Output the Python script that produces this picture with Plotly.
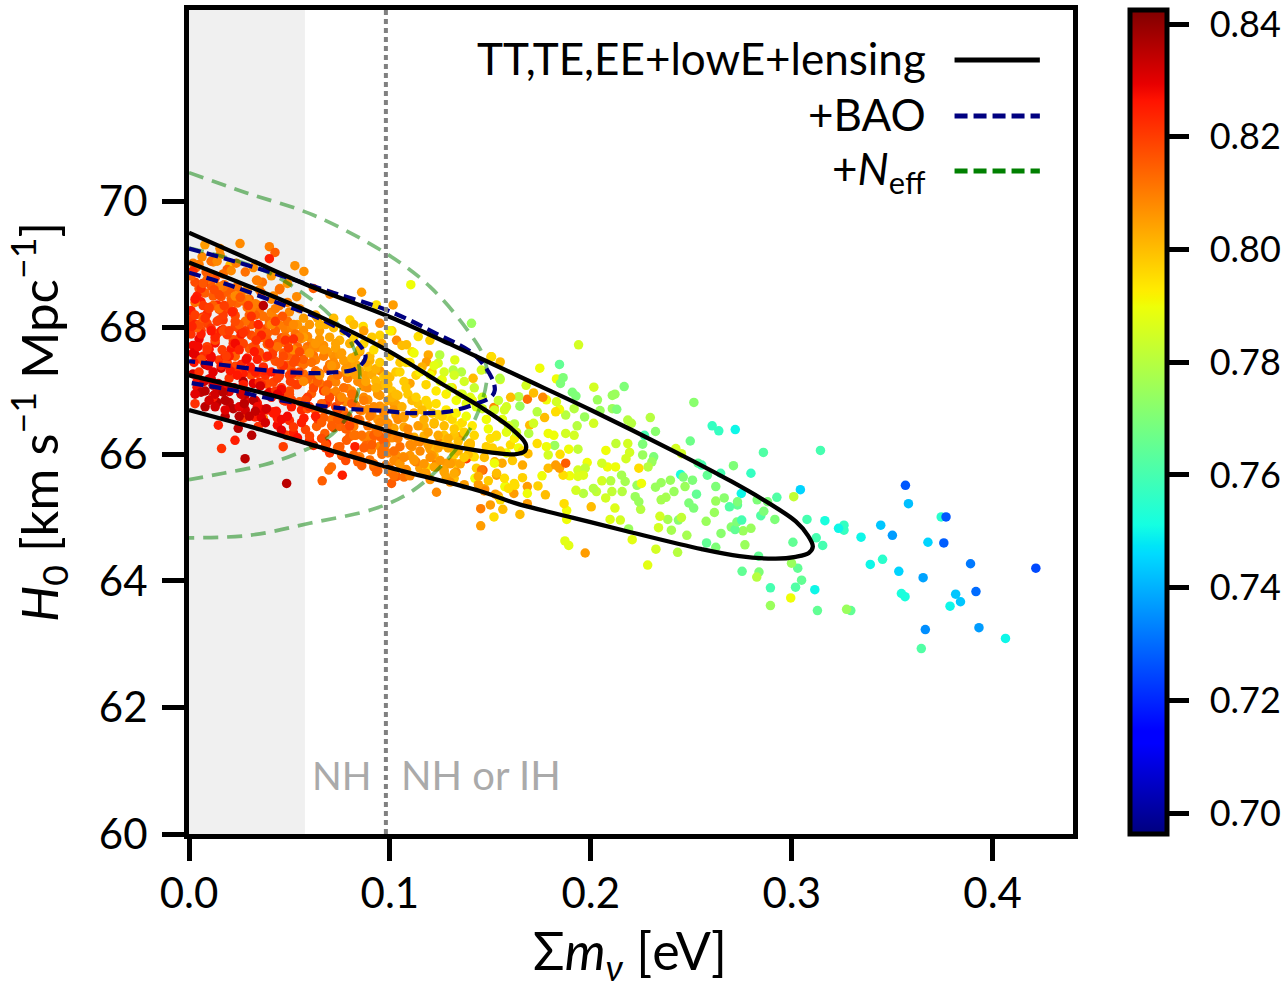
import plotly.graph_objects as go

FONT = "Lato"

# --- sampled points: sum of neutrino masses [eV], H0, sigma8 ---
extra_mnu = [
 .0020,.0065,.0110,.0155,.0190,.0235,.0280,.0320,.0365,.0410,
 .0450,.0490,.0035,.0085,.0130,.0175,.0215,.0260,.0300,.0345,
 .0820,.0870,.0910,.0960,.1010,.1060,.1110,.1160,.1210,.1260,
 .1310,.1360,.1410,.1460,.0850,.0900,.0950,.1000,.1050,.1100,
 .1020,.1070,.1120,.1170,.1220,.1270,.1320,.1370,.1420,.1470,
 .1520,.1570,.1050,.1100,.1150,.1200,.1250,.1300,.1350,.1400,
 .1440,.1490,.1540,.1590,.1480,.1530,.1580,.1620,.1500,.1550,
]
extra_h0 = [
 69.02,69.12,69.05,69.15,68.92,69.02,68.88,68.95,68.72,68.82,
 68.60,68.70,68.95,68.88,68.78,68.68,68.62,68.55,68.45,68.35,
 68.05,67.95,67.85,67.75,67.95,67.72,67.62,67.38,67.30,67.18,
 67.05,66.95,66.85,66.72,67.62,67.48,67.32,67.22,67.45,67.12,
 65.72,65.64,65.92,65.70,65.98,65.72,65.62,65.52,65.96,65.42,
 65.86,65.62,66.12,65.98,66.20,66.08,66.22,66.12,66.28,66.18,
 65.52,65.58,65.34,65.46,66.12,66.28,66.02,66.48,65.20,65.28,
]
extra_s8 = [
 .810,.808,.812,.808,.815,.810,.812,.808,.812,.806,
 .812,.806,.815,.815,.818,.812,.815,.812,.815,.812,
 .800,.805,.798,.803,.797,.800,.795,.802,.797,.790,
 .795,.785,.790,.785,.805,.802,.806,.800,.798,.804,
 .805,.812,.803,.808,.800,.805,.800,.805,.795,.808,
 .790,.795,.812,.806,.810,.805,.808,.802,.805,.800,
 .805,.798,.803,.795,.797,.785,.790,.780,.805,.795,
]

red_mnu = [
 .0030,.0080,.0130,.0185,.0240,.0295,.0345,.0400,.0450,.0505,
 .0060,.0110,.0165,.0215,.0270,.0325,.0375,.0430,.0480,.0530,
 .0015,.0100,.0150,.0205,.0255,.0310,.0360,.0415,.0465,.0520,
 .0045,.0095,.0145,.0200,.0250,.0305,.0355,.0410,.0460,.0515,
 .0075,.0125,.0175,.0230,.0285,.0335,.0390,.0440,.0495,.0550,
 .0025,.0070,.0120,.0170,.0225,.0275,.0330,.0385,.0435,.0490,
]
red_h0 = [
 68.45,68.15,67.85,67.55,67.25,68.35,68.05,67.75,67.45,67.15,
 68.62,67.95,67.65,68.25,67.92,67.62,67.32,68.10,67.80,67.50,
 68.02,68.32,68.52,67.32,68.48,68.18,67.88,67.58,68.18,67.82,
 67.70,67.40,67.12,67.95,67.65,67.38,67.08,67.30,67.02,67.28,
 67.15,68.60,68.35,68.10,67.50,67.80,67.55,66.95,67.68,67.62,
 67.45,68.70,67.30,66.98,67.05,66.80,66.68,66.72,66.68,66.60,
]
red_s8 = [
 .826,.822,.824,.820,.826,.820,.824,.822,.818,.820,
 .822,.826,.820,.824,.822,.826,.824,.820,.822,.818,
 .824,.820,.818,.826,.816,.822,.824,.820,.816,.822,
 .828,.830,.832,.820,.824,.826,.832,.826,.828,.822,
 .832,.818,.820,.818,.828,.822,.824,.830,.820,.818,
 .826,.816,.830,.835,.832,.835,.834,.832,.826,.828,
]

dense_mnu = [
 .003,.006,.001,.005,.007,.002,.004,.008,.001,.006,
 .005,.002,.007,.003,.008,.004,.001,.006,.003,.007,
 .011,.014,.009,.013,.015,.010,.012,.016,.009,.014,
 .013,.010,.015,.011,.016,.012,.009,.014,.011,.015,
 .019,.022,.017,.021,.023,.018,.020,.024,.017,.022,
 .021,.018,.023,.019,.024,.020,.017,.022,.019,.023,
 .027,.030,.025,.029,.031,.026,.028,.032,.025,.030,
 .029,.026,.031,.027,.032,.028,.025,.030,.027,.031,
 .035,.038,.033,.037,.039,.034,.036,.040,.033,.038,
 .037,.034,.039,.035,.040,.036,.033,.038,.035,.039,
 .043,.046,.041,.045,.047,.042,.044,.048,.041,.046,
 .045,.042,.047,.043,.048,.044,.041,.046,.043,.047,
 .051,.054,.049,.053,.055,.050,.052,.056,.049,.054,
 .053,.050,.055,.051,.056,.052,.049,.054,.051,.055,
 .059,.062,.057,.061,.063,.058,.060,.064,.057,.062,
 .061,.058,.063,.059,.064,.060,.057,.062,.059,.063,
 .067,.070,.065,.069,.071,.066,.068,.072,.065,.070,
 .069,.066,.071,.067,.072,.068,.065,.070,.067,.071,
 .075,.078,.073,.077,.079,.074,.076,.080,.073,.078,
 .077,.074,.079,.075,.080,.076,.073,.078,.075,.079,
 .083,.086,.081,.085,.087,.082,.084,.088,.081,.086,
 .085,.082,.087,.083,.088,.084,.081,.086,.083,.087,
 .091,.094,.089,.093,.095,.090,.092,.096,.089,.094,
 .093,.090,.095,.091,.096,.092,.089,.094,.091,.095,
 .099,.102,.097,.101,.103,.098,.100,.104,.097,.102,
 .101,.098,.103,.099,.104,.100,.097,.102,.099,.103,
 .109,.112,.107,.111,.113,.108,.110,.114,.107,.112,
 .119,.122,.117,.121,.123,.118,.120,.124,.117,.122,
 .129,.132,.127,.131,.133,.128,.130,.134,.127,.132,
]
dense_h0 = [
 68.72,68.41,68.13,67.82,67.55,67.27,67.06,68.55,68.27,67.96,
 68.62,67.72,68.35,68.05,67.42,67.15,68.82,66.98,67.58,68.17,
 68.66,68.36,68.07,67.76,67.49,67.19,66.92,68.49,68.22,67.91,
 68.58,67.66,68.29,67.99,67.36,67.09,68.76,66.82,67.52,68.12,
 68.56,68.26,67.97,67.66,67.39,67.09,66.82,68.39,68.12,67.81,
 68.46,67.56,68.19,67.89,67.26,66.99,68.64,66.72,67.42,68.02,
 68.42,68.12,67.83,67.52,67.25,66.95,66.70,68.25,67.98,67.67,
 68.32,67.42,68.05,67.75,67.12,66.85,68.52,66.60,67.28,67.88,
 68.28,67.98,67.69,67.38,67.11,66.81,66.58,68.11,67.84,67.53,
 68.18,67.28,67.91,67.61,66.98,66.71,68.38,66.50,67.14,67.74,
 68.14,67.84,67.55,67.24,66.97,66.67,66.46,67.97,67.70,67.39,
 68.04,67.14,67.77,67.47,66.84,66.57,68.24,66.38,67.00,67.60,
 68.00,67.70,67.41,67.10,66.83,66.53,66.34,67.83,67.56,67.25,
 67.90,67.00,67.63,67.33,66.70,66.43,68.10,66.26,66.86,67.46,
 67.86,67.56,67.27,66.96,66.69,66.39,66.22,67.69,67.42,67.11,
 67.76,66.86,67.49,67.19,66.56,66.29,67.96,66.14,66.72,67.32,
 67.72,67.42,67.13,66.82,66.55,66.25,66.10,67.55,67.28,66.97,
 67.62,66.72,67.35,67.05,66.42,66.15,67.82,66.02,66.58,67.18,
 67.58,67.28,66.99,66.68,66.41,66.11,65.98,67.41,67.14,66.83,
 67.48,66.58,67.21,66.91,66.28,66.01,67.68,65.90,66.44,67.04,
 67.42,67.12,66.85,66.54,66.27,65.99,65.88,67.25,67.00,66.69,
 67.32,66.44,67.07,66.77,66.14,65.93,67.52,65.82,66.30,66.90,
 67.26,66.96,66.71,66.40,66.13,65.91,65.80,67.09,66.86,66.55,
 67.16,66.30,66.93,66.63,66.00,65.85,67.38,65.74,66.16,66.76,
 67.10,66.80,66.57,66.26,65.99,65.83,65.72,66.93,66.72,66.41,
 67.00,66.16,66.79,66.49,65.88,65.77,67.22,65.66,66.02,66.62,
 66.95,66.65,66.43,66.12,65.88,65.76,65.66,66.80,66.58,66.27,
 66.78,66.48,66.29,65.98,65.80,65.70,65.60,66.63,66.44,66.13,
 66.60,66.30,66.15,65.88,65.72,65.64,65.56,66.45,66.30,66.00,
]
dense_s8 = [
 .818,.825,.821,.829,.823,.832,.828,.815,.825,.819,
 .817,.828,.821,.824,.834,.827,.814,.834,.830,.823,
 .816,.823,.819,.827,.821,.830,.835,.817,.823,.818,
 .815,.826,.819,.822,.832,.832,.812,.835,.828,.820,
 .815,.821,.819,.826,.819,.828,.834,.814,.821,.817,
 .814,.825,.818,.821,.830,.830,.812,.835,.826,.819,
 .814,.819,.818,.825,.818,.827,.832,.812,.819,.816,
 .812,.823,.817,.819,.830,.828,.810,.834,.825,.818,
 .812,.818,.816,.823,.817,.826,.830,.812,.817,.814,
 .812,.821,.815,.818,.828,.827,.810,.832,.823,.816,
 .810,.816,.815,.821,.816,.825,.828,.810,.815,.814,
 .810,.819,.814,.817,.826,.825,.809,.830,.821,.815,
 .809,.814,.814,.819,.815,.823,.825,.809,.814,.812,
 .808,.817,.812,.815,.823,.821,.808,.827,.819,.814,
 .808,.812,.812,.815,.814,.819,.823,.808,.812,.810,
 .807,.815,.810,.814,.821,.819,.807,.823,.817,.812,
 .807,.810,.810,.814,.812,.818,.821,.807,.810,.809,
 .806,.814,.809,.812,.818,.817,.806,.821,.815,.810,
 .806,.809,.809,.812,.810,.815,.818,.806,.809,.808,
 .805,.812,.808,.810,.815,.815,.804,.818,.814,.809,
 .804,.808,.808,.810,.809,.814,.815,.804,.808,.807,
 .803,.810,.807,.809,.814,.814,.802,.815,.812,.808,
 .803,.807,.807,.809,.808,.812,.814,.802,.807,.806,
 .801,.809,.806,.808,.812,.812,.800,.814,.810,.807,
 .800,.806,.806,.808,.807,.810,.812,.800,.806,.804,
 .799,.808,.804,.807,.810,.810,.799,.812,.809,.806,
 .798,.804,.804,.807,.809,.808,.809,.799,.804,.802,
 .796,.802,.802,.806,.808,.806,.807,.796,.802,.800,
 .793,.799,.799,.804,.806,.804,.806,.793,.799,.798,
]

cloud_mnu = [
 .002,.004,.003,.006,.002,.005,.008,.003,.007,.010,
 .004,.009,.001,.006,.011,.003,.008,.012,.005,.010,
 .012,.014,.013,.016,.015,.018,.014,.017,.019,.013,
 .016,.011,.020,.018,.015,.021,.017,.022,.013,.019,
 .024,.022,.026,.023,.027,.025,.029,.021,.028,.024,
 .030,.026,.032,.028,.023,.031,.027,.033,.025,.029,
 .035,.033,.036,.034,.038,.032,.037,.035,.039,.034,
 .040,.036,.042,.038,.041,.037,.043,.039,.036,.041,
 .045,.043,.047,.044,.048,.046,.042,.049,.044,.047,
 .050,.048,.052,.046,.051,.049,.053,.045,.050,.054,
 .055,.053,.057,.054,.058,.056,.052,.059,.055,.057,
 .060,.058,.062,.059,.063,.061,.057,.064,.060,.062,
 .065,.063,.067,.064,.068,.066,.062,.069,.065,.067,
 .070,.068,.072,.069,.073,.071,.067,.074,.070,.072,
 .075,.073,.077,.074,.078,.076,.072,.079,.075,.077,
 .080,.078,.082,.079,.083,.081,.077,.084,.080,.082,
 .085,.083,.087,.084,.088,.086,.082,.089,.085,.087,
 .090,.088,.092,.089,.093,.091,.087,.094,.090,.092,
 .095,.093,.097,.094,.098,.096,.092,.099,.095,.097,
 .100,.098,.102,.099,.103,.101,.097,.104,.100,.102,
 .105,.103,.107,.104,.108,.106,.102,.109,.105,.107,
 .110,.108,.112,.109,.113,.111,.107,.114,.110,.112,
 .115,.113,.117,.114,.118,.116,.112,.119,.115,.117,
 .120,.118,.122,.119,.123,.121,.117,.124,.120,.122,
 .125,.123,.127,.124,.128,.126,.122,.129,.125,.127,
 .130,.128,.132,.129,.133,.131,.127,.134,.130,.132,
 .135,.133,.137,.134,.138,.136,.132,.139,.135,.137,
 .140,.138,.142,.139,.143,.141,.137,.144,.140,.142,
 .146,.148,.150,.147,.152,.149,.154,.151,.156,.153,
 .155,.158,.157,.160,.159,.162,.161,.164,.163,.166,
 .005,.012,.020,.028,.036,.044,.052,.060,.068,.076,
 .009,.017,.025,.033,.041,.049,.057,.065,.073,.081,
 .003,.010,.018,.026,.034,.042,.050,.058,.066,.074,
 .007,.015,.023,.031,.039,.047,.055,.063,.071,.079,
]
cloud_h0 = [
 68.90,68.50,68.20,67.90,67.60,67.30,67.00,66.80,68.70,68.30,
 68.00,67.70,67.90,67.50,67.20,66.95,66.75,66.90,69.00,68.80,
 68.50,68.10,67.80,67.40,67.05,66.60,69.05,68.85,68.30,66.75,
 67.95,67.55,67.20,66.85,68.65,68.40,68.20,67.75,66.95,67.45,
 68.65,68.25,67.90,67.55,67.15,66.75,68.45,68.90,66.95,67.30,
 68.20,68.45,67.70,67.95,67.75,67.35,67.10,66.85,66.60,68.60,
 68.60,68.20,67.85,67.50,67.15,66.85,68.35,67.95,66.70,68.75,
 68.05,68.55,67.65,67.25,66.90,66.70,68.30,67.80,67.10,68.45,
 68.35,67.95,67.55,67.20,66.85,66.55,68.50,68.10,67.75,67.40,
 68.25,67.85,67.45,67.05,66.75,68.40,67.60,66.95,67.25,68.05,
 68.30,67.90,67.50,67.10,66.80,66.50,68.05,67.70,67.30,68.15,
 68.05,67.65,67.25,66.90,66.60,67.45,67.85,68.15,66.75,67.05,
 67.95,68.20,67.55,67.15,66.80,66.50,67.70,67.35,68.05,67.00,
 67.85,68.05,67.45,67.10,66.75,66.45,67.65,67.25,66.90,68.15,
 67.80,67.40,67.05,66.70,66.40,67.60,68.00,67.20,66.85,66.55,
 67.75,67.35,66.95,66.60,67.55,66.80,67.95,67.15,66.45,66.30,
 67.65,67.25,66.85,66.55,67.45,66.30,67.85,67.05,66.70,66.10,
 67.55,67.15,66.75,66.45,67.35,66.15,67.75,66.95,66.60,66.30,
 67.45,67.05,66.65,66.35,67.25,66.05,67.65,66.85,66.50,66.20,
 67.55,67.10,66.70,66.35,67.30,66.90,66.10,66.55,67.95,65.90,
 67.30,66.95,66.60,66.25,67.45,66.75,66.05,66.40,65.85,67.15,
 67.45,67.05,66.65,66.30,67.25,66.85,65.95,66.45,66.15,67.60,
 67.30,66.90,66.55,66.20,67.10,66.70,65.90,66.35,66.05,65.70,
 67.25,66.85,66.50,66.15,67.00,66.65,65.85,66.30,65.95,67.40,
 67.15,66.80,66.45,66.10,66.95,66.60,65.80,66.25,65.90,67.30,
 67.05,66.70,66.40,66.10,66.85,66.55,65.75,66.20,65.85,67.25,
 66.95,66.65,66.35,66.05,66.80,66.50,65.70,66.15,65.85,67.15,
 66.90,66.60,66.30,66.00,66.75,66.45,65.95,65.65,66.15,67.05,
 66.90,66.55,66.25,65.95,66.70,66.40,66.85,66.10,66.55,66.30,
 66.05,66.35,66.70,66.15,66.45,66.25,65.90,66.10,66.35,66.05,
 68.05,68.35,67.55,68.10,67.85,67.70,67.65,67.60,67.00,66.90,
 67.65,67.95,68.05,67.30,68.05,67.75,67.15,67.25,67.75,66.95,
 68.40,66.85,66.70,66.95,66.75,66.65,66.95,66.85,66.80,66.55,
 68.15,68.30,68.50,68.30,66.95,66.85,67.85,67.75,67.40,67.30,
]
cloud_s8 = [
 .822,.825,.820,.825,.830,.822,.835,.822,.825,.820,
 .815,.820,.822,.818,.830,.830,.835,.825,.810,.815,
 .815,.820,.818,.825,.832,.835,.808,.812,.818,.832,
 .825,.828,.822,.835,.810,.815,.820,.822,.832,.818,
 .812,.820,.825,.815,.835,.830,.810,.808,.835,.822,
 .815,.812,.818,.820,.828,.822,.825,.830,.835,.808,
 .808,.815,.820,.825,.818,.835,.835,.815,.825,.810,
 .812,.815,.818,.822,.825,.830,.810,.816,.822,.808,
 .810,.815,.818,.820,.825,.828,.808,.812,.816,.822,
 .808,.812,.818,.822,.825,.810,.815,.830,.820,.806,
 .808,.812,.815,.820,.825,.825,.808,.812,.818,.805,
 .806,.810,.815,.820,.825,.812,.805,.804,.822,.818,
 .805,.803,.810,.815,.822,.815,.808,.812,.802,.820,
 .804,.802,.808,.815,.820,.815,.806,.812,.818,.800,
 .802,.808,.812,.818,.815,.805,.800,.810,.815,.820,
 .802,.806,.810,.815,.803,.815,.798,.808,.818,.812,
 .800,.805,.810,.815,.803,.812,.797,.808,.812,.815,
 .800,.804,.808,.812,.802,.815,.796,.806,.810,.815,
 .798,.802,.808,.812,.800,.812,.795,.804,.808,.815,
 .797,.800,.806,.812,.798,.802,.812,.808,.792,.808,
 .796,.800,.805,.810,.795,.802,.812,.808,.806,.798,
 .794,.798,.803,.808,.796,.800,.808,.805,.808,.790,
 .792,.797,.802,.808,.796,.800,.806,.804,.808,.805,
 .790,.796,.800,.805,.793,.798,.806,.803,.807,.788,
 .788,.795,.800,.804,.792,.797,.804,.802,.806,.786,
 .786,.793,.798,.803,.790,.796,.804,.800,.805,.785,
 .787,.792,.797,.802,.788,.795,.803,.800,.804,.785,
 .788,.790,.796,.800,.787,.793,.798,.803,.800,.783,
 .785,.790,.795,.800,.785,.790,.783,.797,.788,.795,
 .797,.788,.785,.795,.785,.792,.798,.790,.785,.795,
 .818,.815,.825,.812,.815,.812,.808,.806,.812,.808,
 .822,.818,.815,.825,.808,.810,.808,.806,.804,.812,
 .812,.832,.830,.832,.828,.826,.818,.818,.815,.815,
 .815,.812,.808,.810,.830,.822,.810,.806,.806,.804,
]

edge_mnu = [
 .0486,.0279,.0162,.0763,.0663,.0709,.0696,.0826,.1008,.0933,
 .1232,.1472,.1104,.1406,.0859,.0254,.0400,.0428,.0527,.0572,
 .0400,.0079,.0154,.0204,.0121,.0336,.0453,.0536,.0619,.0701,
 .0801,.0867,.0933,.1016,.0950,.0950,.1033,.1083,.1141,.1199,
 .1191,.1182,.1248,.1240,.1323,.1315,.1356,.1414,.1506,.1547,
 .1455,.0328,.0345,.0312,.0245,.0229,.0146,.0270,.0370,.0486,
 .0469,.0519,.0685,.0635,.0572,.0676,.0751,.0784,.0850,.0908,
 .0933,.0950,.0908,.1066,.1083,.1033,.1149,.1182,.1232,.1282,
 .1323,.1381,.1431,.1423,.1456,.1531,.1572,.1622,
]
edge_h0 = [
 65.54,65.93,66.09,65.67,65.58,65.80,65.75,66.12,65.54,65.72,
 65.40,65.45,68.68,68.07,68.56,69.33,69.28,69.19,68.98,68.89,
 69.09,69.31,69.25,68.99,69.04,68.75,68.62,68.49,68.62,68.53,
 68.12,68.02,68.36,68.36,68.07,67.88,67.80,67.73,67.86,67.80,
 67.57,67.46,67.57,67.44,67.49,67.33,67.30,67.20,67.54,67.20,
 67.33,66.59,66.44,66.30,66.41,66.22,66.46,66.57,66.57,66.30,
 66.12,66.33,66.17,66.44,66.57,66.33,66.12,66.22,65.96,66.07,
 66.33,66.28,66.22,65.96,65.75,65.65,65.78,65.80,65.88,65.86,
 65.86,65.93,65.78,65.62,65.75,65.70,65.49,65.51,
]
edge_s8 = [
 .835,.835,.822,.825,.815,.813,.813,.825,.815,.812,
 .808,.805,.790,.775,.805,.808,.810,.815,.807,.807,
 .825,.805,.808,.800,.808,.810,.810,.808,.815,.808,
 .797,.795,.795,.805,.808,.797,.808,.800,.795,.797,
 .803,.805,.780,.785,.787,.780,.780,.800,.795,.780,
 .785,.825,.822,.835,.835,.825,.825,.820,.810,.820,
 .820,.810,.825,.815,.825,.815,.815,.815,.810,.810,
 .815,.815,.812,.805,.800,.815,.805,.795,.810,.805,
 .797,.820,.797,.790,.810,.800,.790,.795,
]

tail_mnu = [
 .4215,.3566,.3581,.3744,.3768,.3757,.3678,.3501,.3443,.3345,
 .3260,.3260,.3233,.3165,.3076,.3043,.3010,.2926,.3143,.2859,
 .2797,.2719,.2637,.2604,.2513,.2495,.2710,.2646,.2447,.3890,
 .3452,.3391,.3533,.3654,.3917,.3816,.3840,.3788,.3546,.3564,
 .3932,.3665,.4064,.3645,.3294,.3273,.3128,.2894,.2995,.3115,
 .3019,.2894,.3049,.3030,.2999,.2837,.2826,.2753,.2835,.3006,
 .3122,.3154,.2767,.2622,.2576,.2648,.2758,.2797,.2699,.2718,
 .2727,.2751,.2846,.2916,.2861,.2880,.2828,.2749,.2730,.2690,
 .2730,.2664,.2622,.2615,.2574,.2526,.2622,.2580,.2534,.2552,
 .2488,.2512,.2478,.2436,.2451,.2401,.2383,.2344,.2337,.2432,
 .2324,.2283,.2206,.2188,.2147,.2096,.1972,.1890,.1871,.1880,
 .1880,.1867,.2002,.2120,.2248,.2239,.2350,.2374,.2414,.2469,
 .2506,.2460,.2396,.2350,.2322,.2230,.2252,.2221,.2156,.2074,
 .2105,.2055,.2099,.1963,.1926,.2028,.2013,.2171,.2153,.2083,
 .2123,.2055,.1982,.1936,.1972,.1963,.1936,.1895,.1862,.1757,
 .1788,.1825,.1844,.1875,.1660,.1660,.1531,.1463,.1522,.1558,
 .1577,.1619,.1684,.1737,.1774,.1684,.1617,.1525,.1470,.1684,
 .1562,.1518,.1647,.1452,.1452,.1847,.1890,.1936,.2075,.2125,
 .2184,.2193,.2175,.2258,.2313,.2304,.2285,.2239,.2258,.2423,
 .2451,.2322,.2267,.2296,.2184,.2202,.2014,.1969,.1932,.1917,
 .1875,.1816,.1788,.1820,.1779,.1788,.1733,.1687,.1696,.1715,
 .1691,.1875,.1844,.1825,.1770,.1733,.1779,.1829,.1684,.1715,
 .1761,.1641,.1601,.1647,.1580,.1678,.1518,.2033,.1908,.1926,
 .1917,.2046,.2107,.2120,.2107,.2129,.2166,.2015,.1746,.1829,
 .1862,.1844,.1939,.1849,.1549,.1503,.1549,
]
tail_h0 = [
 64.20,65.51,65.22,65.01,65.01,64.60,64.61,64.72,64.88,64.69,
 64.80,64.88,64.83,64.95,64.97,65.44,65.33,65.32,66.06,66.03,
 65.70,66.39,66.37,66.45,66.82,66.21,65.82,65.70,65.68,64.27,
 64.34,64.26,64.15,64.05,63.83,63.79,63.67,63.60,63.80,63.75,
 63.26,63.23,63.09,62.93,63.53,63.55,63.53,63.61,63.73,63.86,
 63.90,63.89,64.01,64.20,64.28,64.14,64.06,64.15,64.39,64.61,
 64.68,64.56,64.57,64.53,64.60,64.75,64.79,64.83,64.85,64.81,
 64.93,64.96,65.03,64.97,65.10,65.25,65.28,65.38,65.20,65.17,
 65.25,65.31,65.26,65.08,64.94,65.37,65.49,65.67,65.86,65.83,
 65.23,65.15,64.72,64.96,65.00,64.80,64.97,65.02,64.84,64.45,
 64.50,64.25,64.65,64.82,64.96,64.97,64.44,64.56,64.63,64.97,
 65.11,65.22,65.17,65.15,65.13,65.25,65.28,65.32,65.41,65.49,
 65.59,65.64,65.59,65.55,65.48,65.51,65.54,65.33,65.41,65.31,
 65.41,65.58,65.58,65.38,65.43,65.41,65.46,65.57,65.67,65.80,
 65.80,65.86,65.87,65.75,65.78,65.67,65.65,65.66,65.67,65.66,
 65.78,65.83,65.78,65.86,65.83,65.63,65.67,65.75,65.88,65.86,
 65.49,65.54,65.49,65.50,65.36,65.38,65.38,65.37,65.45,65.22,
 65.13,65.01,65.05,64.87,65.14,66.00,66.08,66.08,66.06,66.17,
 66.17,66.03,65.93,65.99,65.96,65.88,65.80,65.78,66.16,66.09,
 66.01,66.36,66.30,66.58,66.54,66.49,66.49,66.59,66.45,66.30,
 66.33,66.30,66.33,66.14,66.12,65.99,66.17,66.01,66.46,66.49,
 66.33,66.62,66.71,66.67,66.58,66.67,66.86,66.83,66.87,66.97,
 66.90,66.91,66.90,66.76,66.75,67.09,66.74,66.86,66.98,66.92,
 66.72,66.69,66.93,66.95,66.72,66.71,67.07,67.06,67.36,67.19,
 67.21,67.42,67.73,67.12,67.18,67.54,67.46,
]
tail_s8 = [
 .725,.727,.742,.755,.727,.728,.745,.737,.743,.750,
 .757,.757,.750,.752,.760,.745,.782,.762,.760,.762,
 .757,.750,.757,.757,.772,.767,.770,.760,.752,.732,
 .755,.750,.745,.738,.730,.743,.743,.750,.752,.752,
 .737,.735,.750,.762,.765,.775,.765,.775,.790,.750,
 .762,.760,.765,.765,.775,.770,.780,.765,.765,.765,
 .760,.760,.775,.770,.765,.772,.775,.775,.772,.765,
 .770,.760,.762,.770,.770,.770,.770,.750,.765,.762,
 .770,.772,.775,.775,.775,.765,.770,.765,.765,.760,
 .770,.770,.777,.772,.782,.777,.777,.785,.785,.780,
 .785,.788,.788,.775,.785,.787,.805,.788,.788,.790,
 .790,.795,.800,.787,.780,.775,.777,.777,.775,.775,
 .770,.770,.775,.775,.775,.775,.790,.775,.780,.785,
 .782,.785,.780,.780,.785,.782,.780,.777,.777,.790,
 .790,.785,.790,.785,.782,.787,.787,.790,.795,.790,
 .800,.805,.805,.815,.803,.797,.805,.815,.803,.803,
 .795,.795,.805,.797,.800,.790,.805,.805,.805,.805,
 .800,.795,.800,.805,.810,.795,.790,.782,.790,.782,
 .785,.785,.785,.775,.770,.775,.780,.795,.770,.785,
 .785,.772,.760,.780,.780,.780,.785,.775,.780,.785,
 .785,.790,.790,.775,.790,.785,.795,.800,.800,.785,
 .780,.780,.790,.795,.800,.780,.790,.785,.812,.800,
 .808,.780,.800,.775,.785,.785,.808,.775,.770,.770,
 .780,.775,.775,.775,.775,.770,.770,.785,.790,.790,
 .770,.765,.785,.770,.785,.800,.800,
]

# --- contours ---
tt_outer_x = [0,.03,.06,.10,.13,.165,.20,.24,.27,.29,.302,.308,.3105,.3085,.302,.292,.274,.2552,.2184,.1908,.1632,.1447,.10,.06,.03,0]
tt_outer_y = [69.50,69.08,68.66,68.17,67.74,67.22,66.70,66.07,65.57,65.20,64.94,64.72,64.54,64.44,64.38,64.35,64.39,64.50,64.78,65.00,65.22,65.42,65.79,66.16,66.44,66.70]
tt_inner_x = [0,.03,.06,.0983,.125,.145,.16,.1675,.1672,.162,.15,.12,.10,.07,.045,.02,0]
tt_inner_y = [69.03,68.65,68.25,67.65,67.13,66.75,66.42,66.17,66.05,66.00,66.03,66.20,66.36,66.66,66.90,67.10,67.25]
bao_outer_x = [0,.0204,.0452,.0701,.0983,.1248,.1414,.1505,.1522,.1505,.1414,.1282,.1116,.0950,.0784,.0618,.0403,.0204,0]
bao_outer_y = [69.25,69.07,68.83,68.57,68.28,67.88,67.59,67.22,67.01,66.91,66.78,66.67,66.65,66.69,66.72,66.78,66.88,67.02,67.13]
bao_inner_x = [0,.0204,.0452,.0668,.0834,.0879,.0834,.0701,.0536,.0370,.0171,0]
bao_inner_y = [68.87,68.67,68.38,68.12,67.78,67.54,67.36,67.29,67.29,67.33,67.41,67.47]
neff_outer_x = [0,.0287,.0618,.0983,.1199,.1398,.1473,.1480,.1414,.1298,.1116,.0934,.0600,.0303,0]
neff_outer_y = [70.45,70.13,69.78,69.17,68.65,67.91,67.49,67.12,66.49,65.96,65.43,65.15,64.91,64.72,64.68]
neff_inner_x = [0,.0204,.0403,.0569,.0701,.0817,.0850,.0826,.0751,.0685,.0536,.0370,.0171,0]
neff_inner_y = [69.26,69.09,68.86,68.54,68.20,67.70,67.28,66.80,66.44,66.25,66.01,65.83,65.70,65.60]

x_ticks = [0.0, 0.1, 0.2, 0.3, 0.4]
y_ticks = [60, 62, 64, 66, 68, 70]
cbar_ticks = [0.70, 0.72, 0.74, 0.76, 0.78, 0.80, 0.82, 0.84]
legend_labels = ["TT,TE,EE+lowE+lensing", "+BAO", "+<i>N</i><sub>eff</sub>"]

JET = [
    [0.00, "rgb(0,0,127)"], [0.11, "rgb(0,0,255)"], [0.125, "rgb(0,0,255)"],
    [0.34, "rgb(0,219,255)"], [0.35, "rgb(0,229,247)"], [0.375, "rgb(20,255,226)"],
    [0.64, "rgb(238,255,8)"], [0.65, "rgb(247,245,0)"], [0.66, "rgb(255,236,0)"],
    [0.89, "rgb(255,19,0)"], [0.91, "rgb(232,0,0)"], [1.00, "rgb(127,0,0)"],
]

fig = go.Figure()

fig.add_trace(go.Scatter(
    x=tail_mnu + edge_mnu + extra_mnu + dense_mnu + cloud_mnu + red_mnu,
    y=tail_h0 + edge_h0 + extra_h0 + dense_h0 + cloud_h0 + red_h0,
    mode="markers",
    showlegend=False,
    marker=dict(
        size=9.5, color=tail_s8 + edge_s8 + extra_s8 + dense_s8 + cloud_s8 + red_s8, colorscale=JET,
        cmin=0.6963, cmax=0.8425, line=dict(width=0),
        colorbar=dict(
            thickness=37, thicknessmode="pixels", len=1, lenmode="fraction",
            x=1.065, xanchor="left", xpad=0, y=0.5, ypad=0, yanchor="middle",
            tickmode="array", tickvals=cbar_ticks,
            ticktext=[f"\u2009\u2009\u2009{v:.2f}" for v in cbar_ticks],
            ticks="outside", ticklen=20, tickwidth=5, tickcolor="black",
            outlinewidth=5, outlinecolor="black", ticklabeloverflow="allow",
            tickfont=dict(family=FONT, size=36, color="black"),
        ),
    ),
))

def contour(x, y, color, width, dash="solid"):
    fig.add_trace(go.Scatter(x=x, y=y, mode="lines", showlegend=False, hoverinfo="skip",
                             line=dict(color=color, width=width, dash=dash, shape="spline", smoothing=1.0)))

GREEN = "rgba(0,128,0,0.5)"
contour(neff_outer_x, neff_outer_y, GREEN, 3.7, "15px,9px")
contour(neff_inner_x, neff_inner_y, GREEN, 3.7, "15px,9px")
contour(bao_outer_x, bao_outer_y, "navy", 4.2, "12px,6px")
contour(bao_inner_x, bao_inner_y, "navy", 4.2, "12px,6px")
contour(tt_outer_x, tt_outer_y, "black", 4.3)
contour(tt_inner_x, tt_inner_y, "black", 4.3)

fig.add_vrect(x0=0, x1=0.0577, fillcolor="#f0f0f0", line_width=0, layer="below")
fig.add_vline(x=0.098, line=dict(color="gray", width=4, dash="5px,4px"), layer="above")

def note(text, x, y, anchor, size, color, ref="paper"):
    fig.add_annotation(text=text, x=x, y=y, xref=ref if ref == "paper" else "x",
                       yref=ref if ref == "paper" else "y", xanchor=anchor, yanchor="middle",
                       showarrow=False, font=dict(family=FONT, size=size, color=color))

note("NH", 0.0600, 60.94, "left", 39, "#aaaaaa", "data")
note("NH or IH", 0.1045, 60.94, "left", 40, "#aaaaaa", "data")
note("Σ<i>m<sub>ν</sub></i> [eV]", 0.4986, -0.146, "center", 52, "black")

key_y = [0.9393, 0.8714, 0.8046]
key_text_y = [0.9415, 0.8735, 0.8046]
key_style = [("black", "solid"), ("navy", "13px,6px"), ("green", "13px,6px")]
for lab, ky, ty, (col, dsh) in zip(legend_labels, key_y, key_text_y, key_style):
    note(lab, 0.8360, ty, "right", 44, "black")
    fig.add_shape(type="line", xref="paper", yref="paper", x0=0.8660, x1=0.9625, y0=ky, y1=ky,
                  line=dict(color=col, width=5, dash=dsh))

axis_common = dict(
    showgrid=False, zeroline=False, showline=True, linecolor="black", linewidth=5,
    mirror=True, ticks="outside", ticklen=22, tickwidth=5, tickcolor="black",
    tickfont=dict(family=FONT, size=42, color="black"),
)
fig.update_layout(
    width=1286, height=992, margin=dict(l=189, r=212.5, t=10, b=158, autoexpand=False),
    paper_bgcolor="white", plot_bgcolor="white", showlegend=False,
    xaxis=dict(range=[0, 0.44], tickmode="array", tickvals=x_ticks, ticklabelstandoff=-3,
               ticktext=[f"{v:.1f}" for v in x_ticks], **axis_common),
    yaxis=dict(range=[60, 73.02], tickmode="array", tickvals=y_ticks, ticklabelstandoff=6,
               ticktext=[str(v) for v in y_ticks],
               title=dict(text="<i>H</i><sub>0</sub> [km s<sup>−1</sup> Mpc<sup>−1</sup>]", standoff=26,
                          font=dict(family=FONT, size=51, color="black")), **axis_common),
)

fig.write_html("out.html", config=dict(displayModeBar=False), post_script="document.body.style.margin='0';")
